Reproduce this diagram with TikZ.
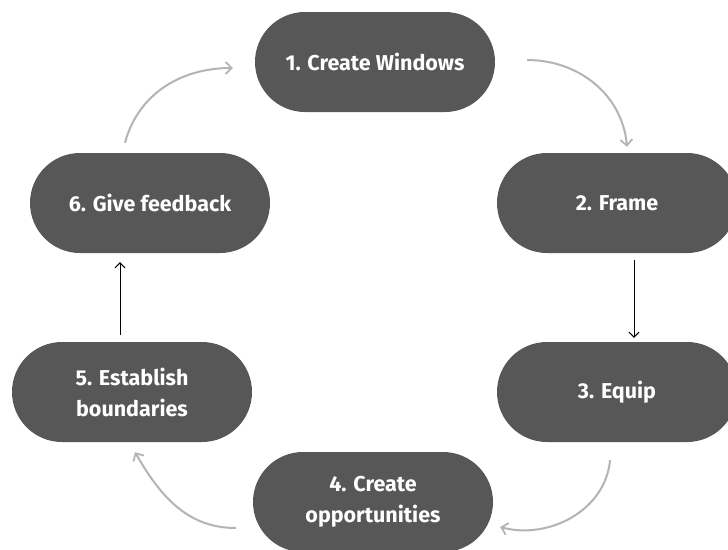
\documentclass[tikz,border=0pt]{standalone}
\usepackage{fontspec}
\setmainfont{Fira Sans}
\usetikzlibrary{arrows.meta}
\definecolor{boxgray}{HTML}{575757}
\definecolor{arcgray}{HTML}{B4B4B4}
\tikzset{
  stepbox/.style={fill=boxgray, draw=none, rounded corners=50pt, minimum width=240pt, minimum height=100pt,
    text=white, font=\fontsize{21.5}{31}\selectfont\bfseries, align=center, inner sep=0pt},
  arc/.style={draw=arcgray, line width=2pt, -{Straight Barb[length=6pt,width=12pt,line width=1.8pt]}},
  link/.style={draw=black, line width=1pt, -{Straight Barb[length=5pt,width=10pt]}}
}
\begin{document}
\begin{tikzpicture}[x=1pt,y=1pt]
\useasboundingbox[fill=white] (0,0) rectangle (728,-549);
\node[stepbox] (n1) at (375,-62) {1. Create Windows};
\node[stepbox] (n2) at (617,-203) {2. Frame};
\node[stepbox] (n3) at (617,-392) {3. Equip};
\node[stepbox] (n4) at (373,-502) {4. Create\\opportunities};
\node[stepbox] (n5) at (132,-392) {5. Establish\\boundaries};
\node[stepbox] (n6) at (150,-203) {6. Give feedback};
\draw[arc] ([xshift=32pt,yshift=2pt]n1.east) to[out=0,in=95] ([xshift=10pt,yshift=6pt]n2.north);
\draw[link] ([xshift=17pt,yshift=-7pt]n2.south) -- ([xshift=17pt,yshift=4pt]n3.north);
\draw[arc] ([xshift=-7pt,yshift=-18pt]n3.south) to[out=-95,in=-15] ([xshift=7pt,yshift=-25pt]n4.east);
\draw[arc] ([xshift=-17pt,yshift=-26pt]n4.west) to[out=180,in=-60] ([xshift=3pt,yshift=-10pt]n5.south);
\draw[link] ([xshift=-12pt,yshift=7pt]n5.north) -- ([xshift=-30pt,yshift=-9pt]n6.south);
\draw[arc] ([xshift=-25pt,yshift=10pt]n6.north) to[out=75,in=180] ([xshift=-22pt,yshift=-6pt]n1.west);
\end{tikzpicture}
\end{document}
